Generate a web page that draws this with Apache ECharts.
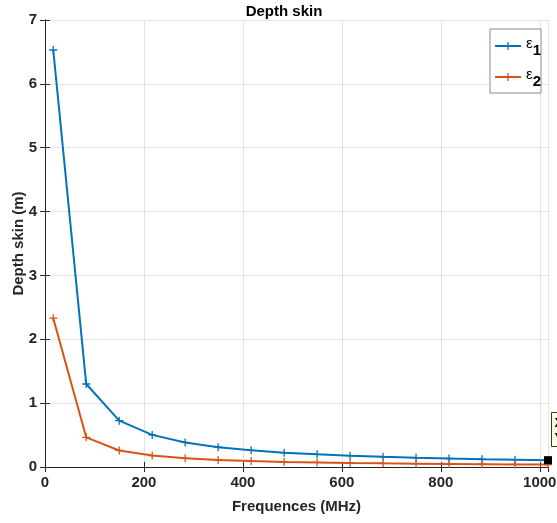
<!DOCTYPE html>
<html><head><meta charset="utf-8">
<script src="https://cdn.jsdelivr.net/npm/echarts@6/dist/echarts.min.js"></script>
<style>html,body{margin:0;padding:0;background:#fff}#c{width:557px;height:523px}</style>
</head><body><div id="c"></div>
<script>
const freqs = [16.67, 83.33, 150, 216.67, 283.33, 350, 416.67, 483.33, 550, 616.67, 683.33, 750, 816.67, 883.33, 950, 1016.67];
const eps1 = [6.53, 1.30, 0.726, 0.503, 0.385, 0.311, 0.261, 0.225, 0.198, 0.177, 0.159, 0.145, 0.133, 0.123, 0.115, 0.107];
const eps2 = [2.33, 0.465, 0.259, 0.179, 0.137, 0.111, 0.093, 0.080, 0.071, 0.063, 0.057, 0.052, 0.048, 0.044, 0.041, 0.038];
const seriesNames = ['ε1', 'ε2'];
const xTicks = [0, 200, 400, 600, 800, 1000];
const yTicks = [0, 1, 2, 3, 4, 5, 6, 7];

const FONT = 'Liberation Sans, Arial, Helvetica, sans-serif';
const AX = '#262626';
const plus = 'path://M-0.16,-1L0.16,-1L0.16,-0.16L1,-0.16L1,0.16L0.16,0.16L0.16,1L-0.16,1L-0.16,0.16L-1,0.16L-1,-0.16L-0.16,-0.16Z';
const pairs = a => freqs.map((f, i) => [f, a[i]]);
const xMax = freqs[freqs.length - 1];

const chart = echarts.init(document.getElementById('c'), null, {renderer: 'canvas'});
const labelStyle = {color: AX, fontFamily: FONT, fontWeight: 'bold', fontSize: 15};
chart.setOption({
  animation: false,
  title: {text: 'Depth skin', left: 279, top: -1, textAlign: 'center',
    textStyle: {fontFamily: FONT, fontWeight: 'bold', fontSize: 15, color: '#000'}},
  grid: {left: 45, right: 9, top: 20, bottom: 56, containLabel: false, outerBoundsMode: 'none'},
  legend: {
    orient: 'vertical', left: 490, top: 29, padding: [7, 0, 4, 4],
    itemWidth: 26, itemHeight: 10, itemGap: 9, borderColor: '#8a8a8a', borderWidth: 1, backgroundColor: '#fff',
    data: seriesNames,
    formatter: n => '{e|ε}{s|' + n.slice(1) + '}',
    textStyle: {rich: {
      e: {fontFamily: FONT, fontSize: 15, color: '#000', padding: [0, 0, 5, 0]},
      s: {fontFamily: FONT, fontSize: 15, fontWeight: 'bold', color: '#000', padding: [9, 0, 0, 0]}
    }}
  },
  xAxis: [{
    type: 'value', min: 0, max: xMax, interval: 200, position: 'bottom',
    name: 'Frequences (MHz)', nameLocation: 'middle', nameGap: 32, nameMoveOverlap: false,
    nameTextStyle: {color: AX, fontFamily: FONT, fontWeight: 'bold', fontSize: 15},
    axisLine: {show: true, lineStyle: {color: AX, width: 1}},
    axisTick: {show: true, inside: true, length: 5, lineStyle: {color: AX}},
    axisLabel: Object.assign({margin: 8, showMaxLabel: false,
      formatter: v => xTicks.includes(Math.round(v)) && Math.abs(v - Math.round(v)) < 1e-6 ? String(Math.round(v)) : ''}, labelStyle),
    splitLine: {show: true, lineStyle: {color: '#e3e3e3', width: 1}}
  }, {
    type: 'value', min: 0, max: xMax, interval: 200, position: 'top',
    axisLine: {show: true, lineStyle: {color: AX, width: 1}},
    axisTick: {show: true, inside: true, length: 5, lineStyle: {color: AX}},
    axisLabel: {show: false}, splitLine: {show: false}
  }],
  yAxis: [{
    type: 'value', min: yTicks[0], max: yTicks[yTicks.length - 1], interval: 1, position: 'left',
    name: 'Depth skin (m)', nameLocation: 'middle', nameGap: 19, nameMoveOverlap: false,
    nameTextStyle: {color: AX, fontFamily: FONT, fontWeight: 'bold', fontSize: 15},
    axisLine: {show: true, lineStyle: {color: AX, width: 1}},
    axisTick: {show: true, inside: true, length: 5, lineStyle: {color: AX}},
    axisLabel: Object.assign({margin: 8}, labelStyle),
    splitLine: {show: true, lineStyle: {color: '#e3e3e3', width: 1}}
  }, {
    type: 'value', min: yTicks[0], max: yTicks[yTicks.length - 1], interval: 1, position: 'right',
    axisLine: {show: true, lineStyle: {color: AX, width: 1}},
    axisTick: {show: true, inside: true, length: 5, lineStyle: {color: AX}},
    axisLabel: {show: false}, splitLine: {show: false}
  }],
  series: [{
    name: seriesNames[0], type: 'line', data: pairs(eps1), color: '#0072BD',
    symbol: plus, symbolSize: 8, showSymbol: true,
    lineStyle: {width: 2}, itemStyle: {color: '#0072BD'},
    markPoint: {
      symbol: 'rect', symbolSize: 8, itemStyle: {color: '#000'}, label: {show: false},
      data: [{coord: [xMax, eps1[eps1.length - 1]]}]
    }
  }, {
    name: seriesNames[1], type: 'line', data: pairs(eps2), color: '#D95319',
    symbol: plus, symbolSize: 8, showSymbol: true,
    lineStyle: {width: 2}, itemStyle: {color: '#D95319'}
  }],
  graphic: [{
    type: 'group', left: 551, top: 412, children: [
      {type: 'rect', shape: {x: 0, y: 0, width: 80, height: 34},
        style: {fill: '#ffffe1', stroke: '#333', lineWidth: 1}},
      {type: 'text', x: 3, y: 3, style: {text: 'X 1016.67\nY 0.107', fill: '#000',
        font: 'bold 13px ' + FONT, lineHeight: 15}}
    ]
  }]
});
</script></body></html>
